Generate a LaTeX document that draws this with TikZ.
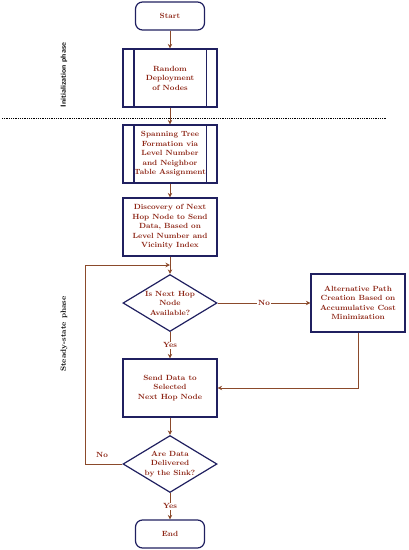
\documentclass[tikz,border=0pt]{standalone}
\usepackage{tikz}
\usetikzlibrary{arrows.meta, positioning, calc, shapes.geometric}
\usepackage[dvipsnames, svgnames]{xcolor}

\definecolor{flowtext}{RGB}{140,36,20}
\definecolor{flowedge}{RGB}{139,74,43}
\definecolor{flowframe}{RGB}{32,32,96}

\begin{document}
\begin{tikzpicture}[x=1pt, y=-1pt,
    every node/.style={font=\fontsize{7.5}{9.5}\selectfont\bfseries, text=flowtext},
    terminal/.style={draw=flowframe, line width=1.2pt, rounded corners=7pt, minimum width=69pt, minimum height=28pt},
    procbox/.style={draw=flowframe, line width=1.2pt, minimum width=94pt, minimum height=58pt, align=center, inner sep=1pt},
    decision/.style={draw=flowframe, line width=1.2pt, diamond, aspect=1.65, minimum width=94pt, minimum height=57pt, inner sep=0pt, align=center},
    flow/.style={draw=flowedge, line width=0.9pt, -{Stealth[length=4.5pt, width=4.5pt]}},
    edgelabel/.style={fill=white, inner sep=1pt}]
    \useasboundingbox (0,0) rectangle (408,550);

    % Initialization
    \node[terminal] (start) at (170,16) {Start};
    \node[procbox] (deploy) at (170,78) {Random\\Deployment\\of Nodes};

    % Phase separator
    \draw[densely dotted, thick] (2,118) -- (387,118);

    % Steady state
    \node[procbox] (tree) at (170,154) {Spanning Tree\\Formation via\\Level Number\\and Neighbor\\Table Assignment};
    \node[procbox] (discover) at (170,227) {Discovery of Next\\Hop Node to Send\\Data, Based on\\Level Number and\\Vicinity Index};
    \node[decision] (hopcheck) at (170,303) {Is Next Hop\\Node\\Available?};
    \node[procbox] (altpath) at (358,303) {Alternative Path\\Creation Based on\\Accumulative Cost\\Minimization};
    \node[procbox] (senddata) at (170,388) {Send Data to\\Selected\\Next Hop Node};
    \node[decision] (delivered) at (170,464) {Are Data\\Delivered\\by the Sink?};
    \node[terminal] (finish) at (170,534) {End};
    \coordinate (join) at (170,265);

    % Inner bars of the predefined process boxes
    \foreach \n in {deploy, tree} {
        \draw[flowframe, line width=1.2pt] ([xshift=11.5pt]\n.north west) -- ([xshift=11.5pt]\n.south west);
        \draw[flowframe, line width=1.2pt] ([xshift=-11.5pt]\n.north east) -- ([xshift=-11.5pt]\n.south east);
    }

    % Phase labels
    \node[rotate=90, text=black, font=\fontsize{7.5}{9}\selectfont\sffamily\bfseries] (initlabel) at (64,75) {Initialization phase};
    \node[rotate=90, text=black] (steadylabel) at (64,334) {Steady-state phase};

    % Connectors
    \draw[flow] (start) -- (deploy);
    \draw[flow] (deploy) -- (tree);
    \draw[flow] (tree) -- (discover);
    \draw[flow] (discover) -- (hopcheck);
    \draw[flow] (hopcheck) -- node[edgelabel] {No} (altpath);
    \draw[flow] (hopcheck) -- node[edgelabel] {Yes} (senddata);
    \draw[flow] (altpath.south) |- (senddata.east);
    \draw[flow] (senddata) -- (delivered);
    \draw[flow] (delivered.west) -- node[above=3pt, pos=0.55] {No} ++(-37,0) |- (join);
    \draw[flow] (delivered) -- node[edgelabel] {Yes} (finish);
\end{tikzpicture}
\end{document}
